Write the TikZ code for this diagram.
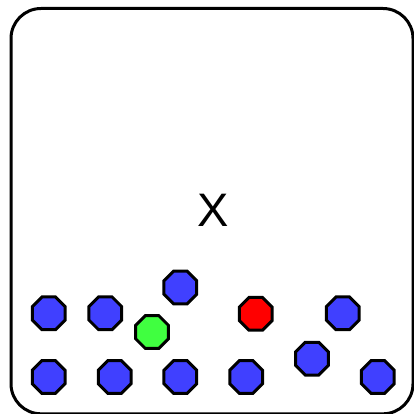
\documentclass[tikz,border=0pt]{standalone}
\usepackage{fontspec}
\setmainfont{Liberation Sans}
\usetikzlibrary{shapes.geometric}
\definecolor{bl}{RGB}{64,64,255}
\definecolor{gr}{RGB}{64,255,64}
\definecolor{rd}{RGB}{255,0,0}
\begin{document}
\begin{tikzpicture}[x=1pt,y=1pt,
  oct/.style={regular polygon, regular polygon sides=8, inner sep=0pt, outer sep=0pt,
    minimum size=35.4pt, draw=black, line width=3pt, fill=#1}]
\useasboundingbox (0,0) rectangle (414,413);
\begin{scope}
\clip (0,0) rectangle (414,413);
\draw[line width=3pt, rounded corners=30pt] (11,413-8.5) rectangle (413,413-413.8);
\end{scope}
\node[font=\fontsize{47}{47}\selectfont] (x) at (213,413-210) {X};
\node[oct=bl] (b1) at (48.7,413-313.3) {};
\node[oct=bl] (b2) at (105.3,413-313.3) {};
\node[oct=bl] (b3) at (180.3,413-287.5) {};
\node[oct=gr] (g1) at (152,413-332) {};
\node[oct=bl] (b4) at (48.7,413-377) {};
\node[oct=bl] (b5) at (114.7,413-377) {};
\node[oct=bl] (b6) at (180.3,413-377) {};
\node[oct=rd] (r1) at (255.7,413-313.8) {};
\node[oct=bl] (b7) at (342.7,413-313.3) {};
\node[oct=bl] (b8) at (312,413-358.7) {};
\node[oct=bl] (b9) at (246.2,413-377) {};
\node[oct=bl] (b10) at (377.8,413-377) {};
\end{tikzpicture}
\end{document}
